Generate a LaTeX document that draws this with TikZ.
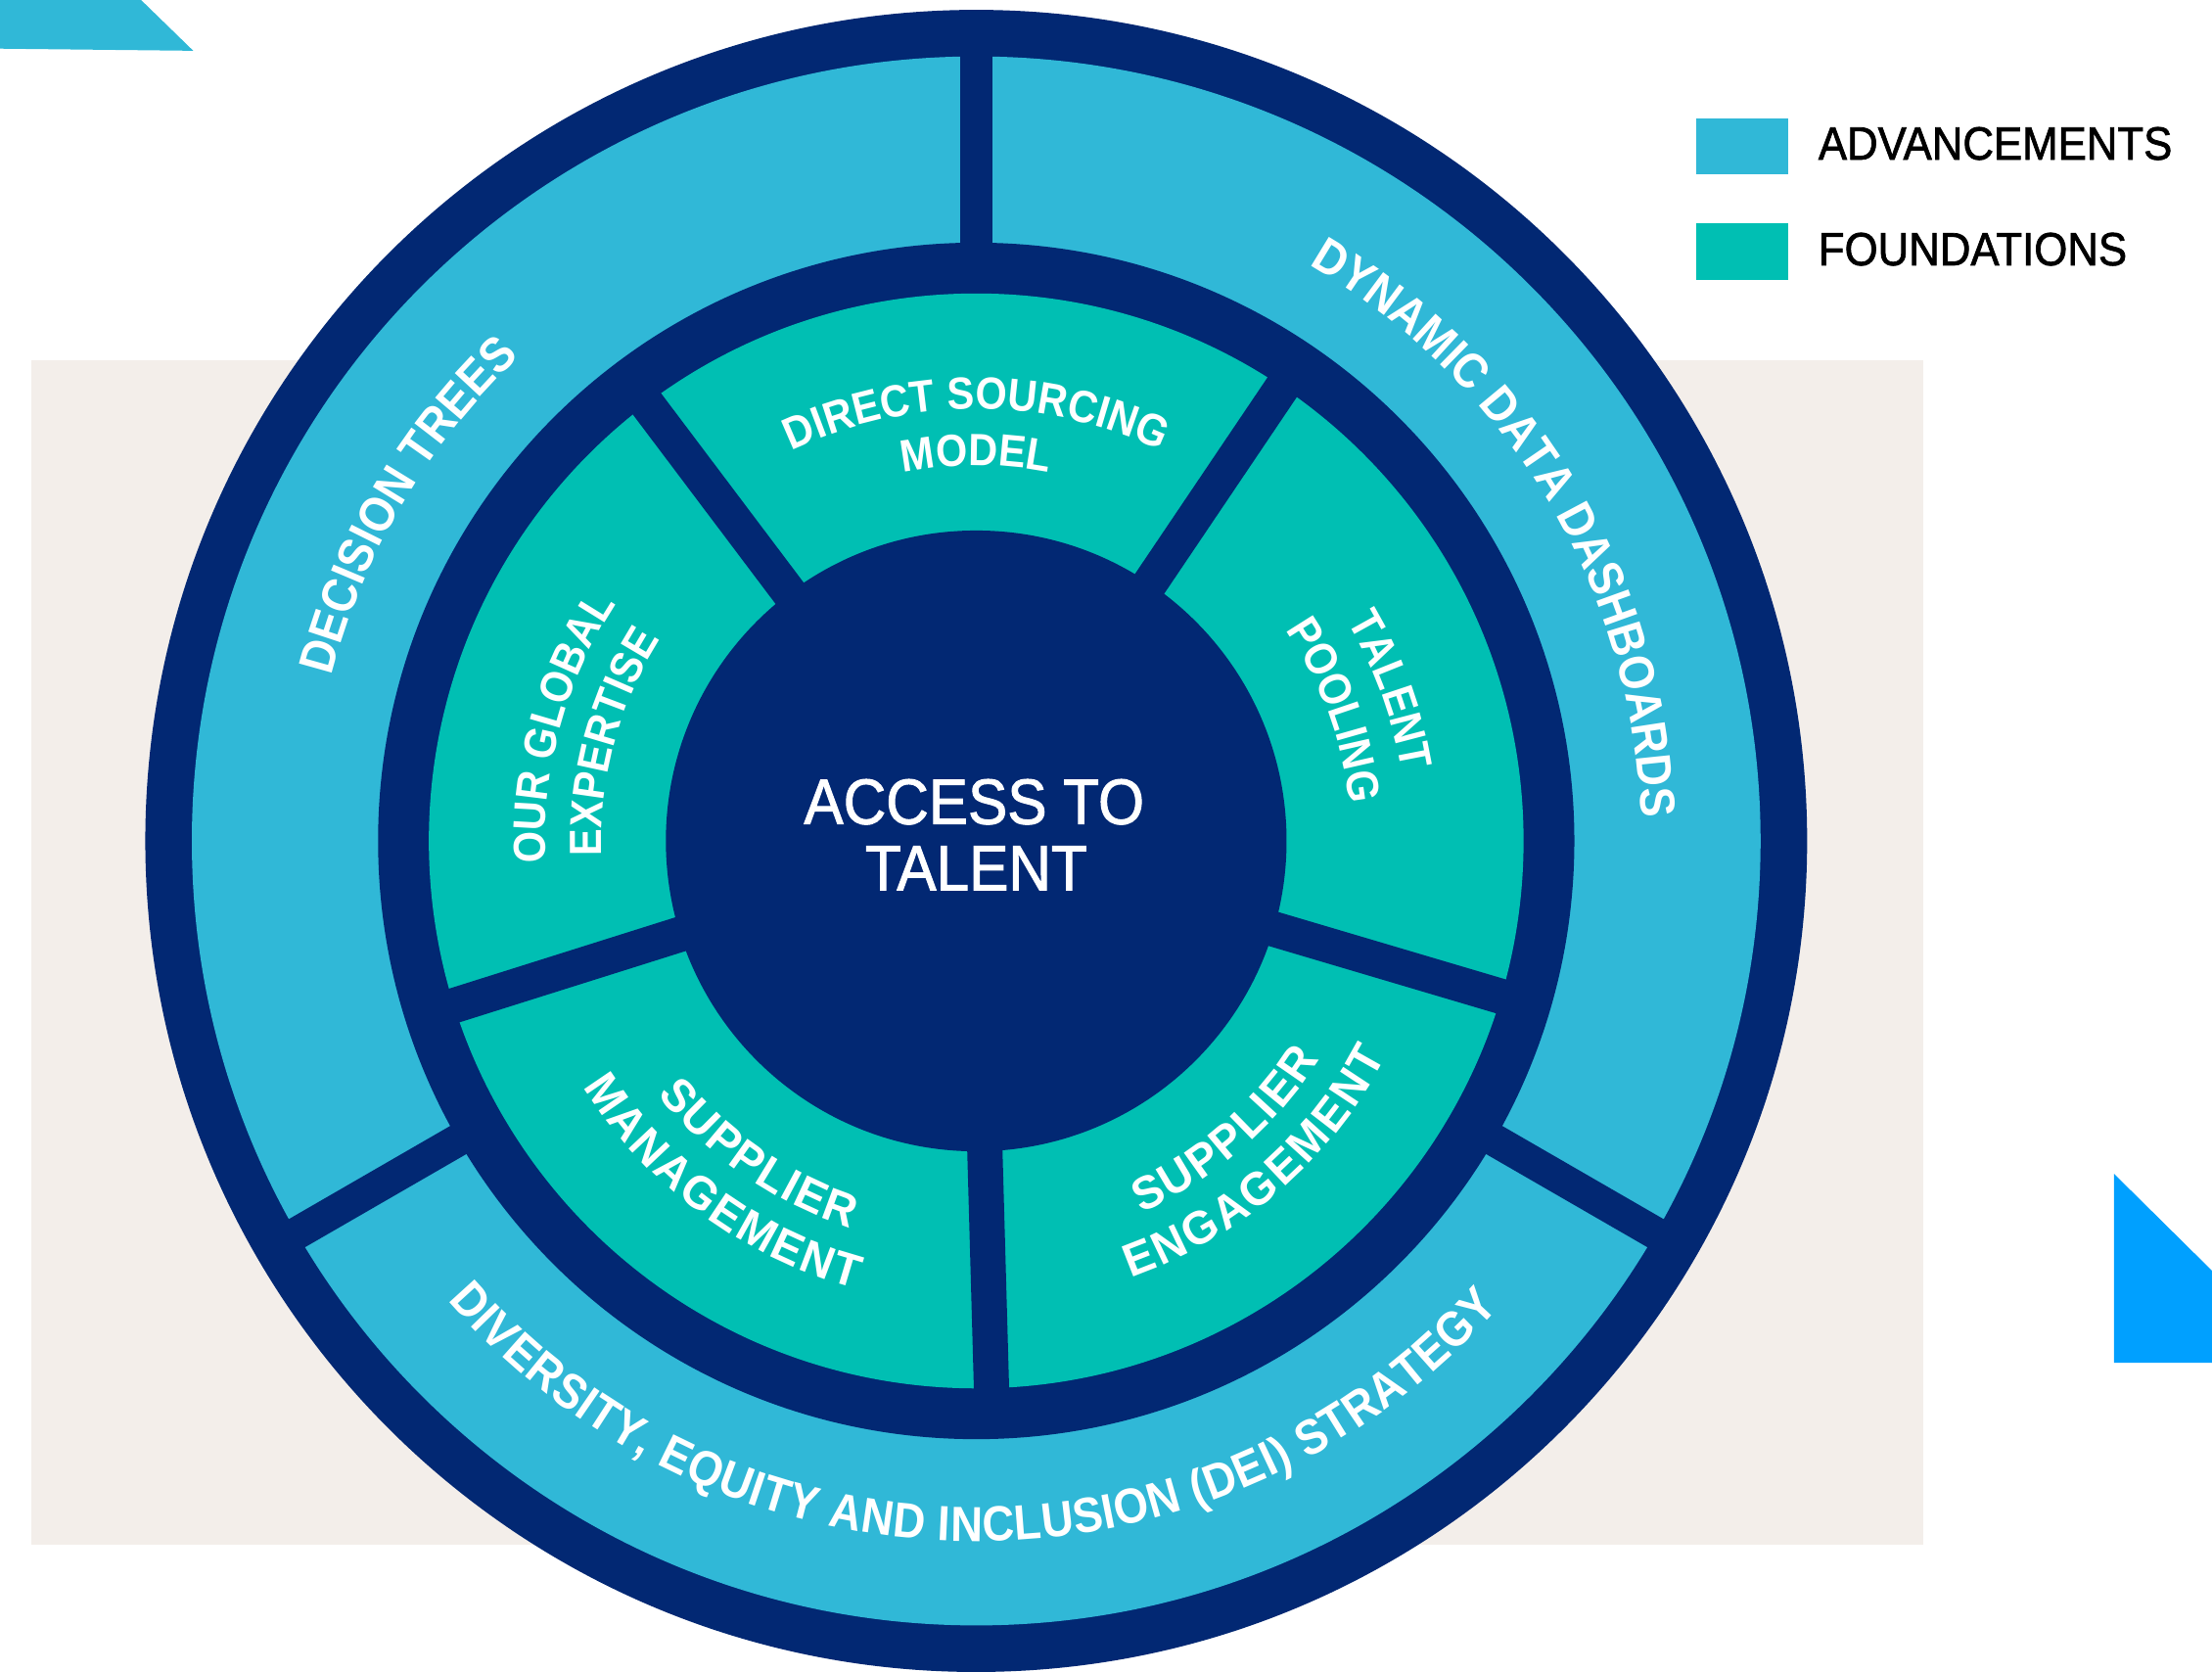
\documentclass[tikz,border=0pt]{standalone}
\usepackage{fontspec}
\setmainfont{Liberation Sans}
\newfontfamily\lfont[FakeStretch=0.9]{Liberation Sans}
\newfontfamily\wfont[FakeStretch=0.97]{Liberation Sans}
\newfontfamily\cfont[FakeStretch=0.92,FakeBold=1.5]{Liberation Sans}
\usetikzlibrary{decorations.text}
\definecolor{navy}{HTML}{022873}
\definecolor{lblue}{HTML}{30B8D7}
\definecolor{tealc}{HTML}{00BFB3}
\definecolor{beige}{HTML}{F3EEEA}
\definecolor{bblue}{HTML}{00A0FF}
\newcommand\outerfmt{\lfont\bfseries\fontsize{35}{35}\selectfont\color{white}}
\newcommand\innerfmt{\lfont\bfseries\fontsize{32}{32}\selectfont\color{white}}
\newcommand\inwardfmt{\wfont\bfseries\fontsize{33}{33}\selectfont\color{white}}
% tops outward, clockwise: #1 centre angle, #2 baseline radius, #3 half span, #4 text, #5 format
\newcommand\txtout[5]{\path[decorate,decoration={text along path,text align=center,text={|#5|#4}}] ({#1+#3}:#2) arc[start angle={#1+#3},end angle={#1-#3},radius=#2];}
% tops inward, counter-clockwise, spread from angle #1 to angle #2 on radius #3
\newcommand\txtfit[5]{\path[decorate,decoration={text along path,text align={fit to path},text={|#5|#4}}] (#1:#3) arc[start angle=#1,end angle=#2,radius=#3];}
\begin{document}
\begin{tikzpicture}[x=1pt,y=1pt,
  sepin/.style={navy,line width=25pt},
  sepout/.style={navy,line width=23pt},
  legendbox/.style={minimum width=65pt,minimum height=40pt,inner sep=0pt,anchor=south west},
  legendtxt/.style={font=\cfont\fontsize{33}{33}\selectfont,inner sep=0pt,anchor=base west,text=black},
  centretxt/.style={font=\cfont\fontsize{45.5}{45.5}\selectfont,inner sep=0pt,anchor=base,text=white}]
\useasboundingbox (-692,-589) rectangle (876,596);
% background panel and corner shapes
\fill[beige] (-670,-499) rectangle (671,341);
\fill[lblue] (-692,596) -- (-592,596) -- (-555,560) -- (-692,561.5) -- cycle;
\fill[bblue] (806.6,-236) -- (876,-304.6) -- (876,-369.8) -- (806.6,-369.8) -- cycle;
% rings
\fill[navy] (0,0) circle[radius=589];
\fill[lblue] (0,0) circle[radius=556];
\fill[navy] (0,0) circle[radius=424];
\fill[tealc] (0,0) circle[radius=388];
\fill[navy] (0,0) circle[radius=220];
% separators outer ring
\foreach \a in {90,210,330} \draw[sepout] (\a:410) -- (\a:570);
% separators inner ring
\foreach \a in {56,127,197.5,271.6,343.5} \draw[sepin] (\a:200) -- (\a:400);
% outer ring texts
\txtout{149.5}{471.5}{70}{DECISION TREES}{\outerfmt}
\txtout{31}{471.5}{70}{DYNAMIC DATA DASHBOARDS}{\outerfmt}
\txtfit{221}{318.3}{496.5}{DIVERSITY, EQUITY AND INCLUSION (DEI) STRATEGY}{\outerfmt}
% inner ring texts
\txtout{90}{306}{60}{DIRECT SOURCING}{\innerfmt}
\txtout{90}{266}{60}{MODEL}{\innerfmt}
\txtout{20}{305.5}{60}{TALENT}{\innerfmt}
\txtout{20}{265.5}{60}{POOLING}{\innerfmt}
\txtout{164.8}{305.5}{60}{OUR GLOBAL}{\innerfmt}
\txtout{164.8}{265.5}{60}{EXPERTISE}{\innerfmt}
\txtfit{294}{327.6}{288.5}{SUPPLIER}{\inwardfmt}
\txtfit{289.5}{332.3}{328.5}{ENGAGEMENT}{\inwardfmt}
\txtfit{218.5}{252}{288.5}{SUPPLIER}{\inwardfmt}
\txtfit{212}{255}{328.5}{MANAGEMENT}{\inwardfmt}
% centre
\node[centretxt] (access) at (-1.5,12) {ACCESS TO};
\node[centretxt] (talent) at (0,-35) {TALENT};
% legend
\node[legendbox,fill=lblue] (advbox) at (510.4,472) {};
\node[legendtxt] (advtxt) at (596.8,482.9) {ADVANCEMENTS};
\node[legendbox,fill=tealc] (fndbox) at (510.4,397.5) {};
\node[legendtxt] (fndtxt) at (596.8,408) {FOUNDATIONS};
\end{tikzpicture}
\end{document}
